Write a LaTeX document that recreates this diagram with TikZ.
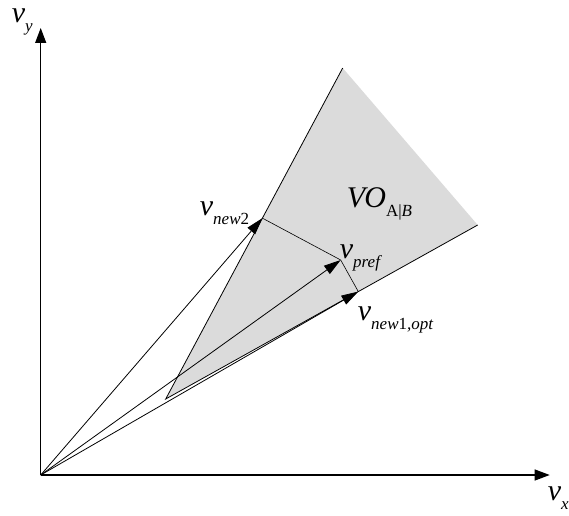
\documentclass[tikz,border=0pt]{standalone}
\usepackage{fontspec}
\setmainfont{Liberation Serif}
\usetikzlibrary{arrows.meta,calc}

\newcommand{\vsub}[2]{{\fontsize{30}{30}\selectfont\itshape #1}%
  \raisebox{-9pt}{\fontsize{17}{17}\selectfont #2}}

\begin{document}
\begin{tikzpicture}[x=1pt,y=1pt,
 axis/.style={-{Triangle[length=15pt,width=11pt]},line width=1.2pt},
 vec/.style={-{Triangle[length=17pt,width=10pt]},line width=0.8pt},
 edge/.style={line width=0.8pt},
 lbl/.style={anchor=base west,inner sep=0pt}]
\useasboundingbox (-40.7,-40) rectangle (528.3,475);
\coordinate (O) at (0,0);
\coordinate (xend) at (509,0);
\coordinate (yend) at (0,447);
\coordinate (apex) at (125,76);
\coordinate (top) at (302,407);
\coordinate (right) at (437,250);
\coordinate (pref) at (300,215);
\coordinate (new2) at ($(apex)!(pref)!(top)$);
\coordinate (new1) at ($(apex)!(pref)!(right)$);
% velocity obstacle
\fill[gray!28] (apex)--(top)--(right)--cycle;
\draw[edge] (top)--(apex)--(right);
\draw[edge,line width=0.6pt] (new2)--(pref)--(new1);
% axes
\draw[axis] (O)--(xend);
\draw[axis] (O)--(yend);
% velocities
\draw[vec] (O)--(new2);
\draw[vec] (O)--(pref);
\draw[vec] (O)--(new1);
\node[lbl] (vy) at (-29,452) {\vsub{v}{\itshape y}};
\node[lbl] (vx) at (507,-25) {\vsub{v}{\itshape x}};
\node[lbl] (vo) at (306,268) {\vsub{VO}{A|\textit{B}}};
\node[lbl] (vnew2) at (159,260) {\vsub{v}{\textit{new}2}};
\node[lbl] (vpref) at (299,217) {\vsub{v}{\textit{pref}}};
\node[lbl] (vnew1) at (317,155) {\vsub{v}{\textit{new}1\textit{,opt}}};
\end{tikzpicture}
\end{document}
